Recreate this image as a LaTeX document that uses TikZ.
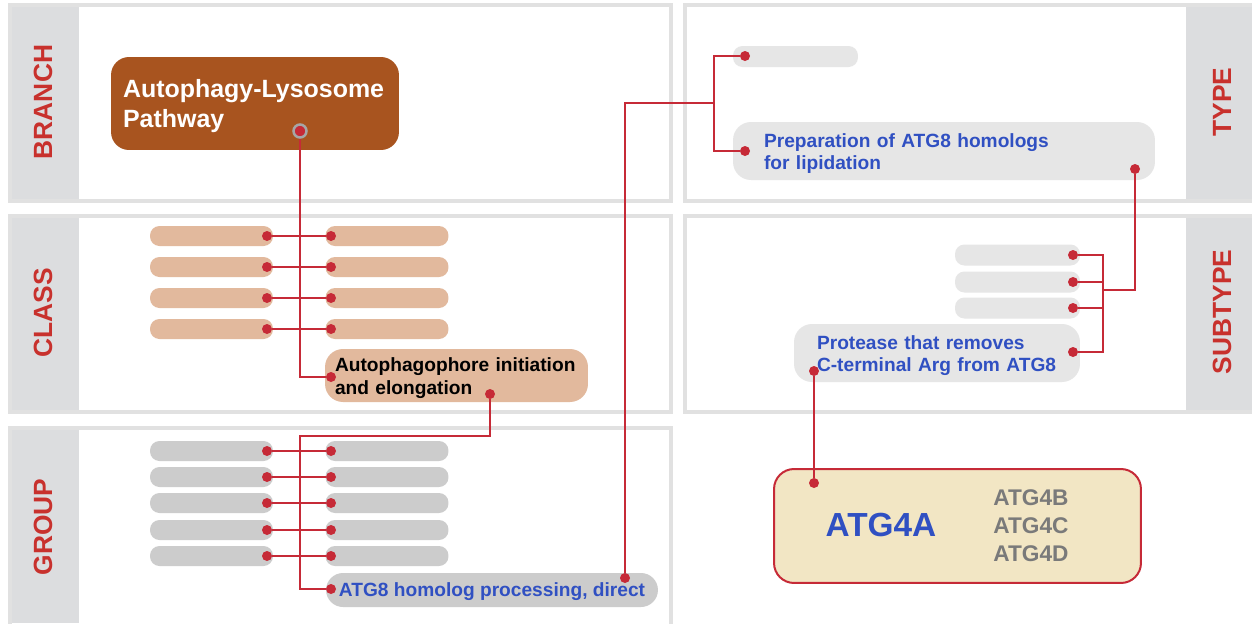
\documentclass[tikz,border=0pt]{standalone}
\usepackage{fontspec}
\setmainfont{Liberation Sans}
\usetikzlibrary{positioning}

\definecolor{panelgrey}{HTML}{E1E1E1}
\definecolor{stripgrey}{HTML}{DCDDDF}
\definecolor{labelred}{HTML}{C8312D}
\definecolor{linkred}{HTML}{C62A37}
\definecolor{brownbox}{HTML}{A8541F}
\definecolor{peach}{HTML}{E2B99D}
\definecolor{pillgrey}{HTML}{CCCCCC}
\definecolor{lightpill}{HTML}{E6E6E6}
\definecolor{textblue}{HTML}{3050C2}
\definecolor{cream}{HTML}{F2E6C4}
\definecolor{greytext}{HTML}{7A7A7A}

\newcommand{\boxfont}{\fontsize{10.9}{12.6}\selectfont\bfseries}

\tikzset{
  panel/.style={draw=panelgrey, line width=0.08cm, fill=white},
  strip/.style={fill=stripgrey},
  lab/.style={rotate=90, text=labelred, font=\fontsize{15}{15}\selectfont\bfseries},
  pill/.style={rounded corners=0.19cm, minimum width=2.46cm, minimum height=0.4cm, inner sep=0pt},
  dot/.style={circle, fill=linkred, minimum size=0.2cm, inner sep=0pt},
  link/.style={draw=linkred, line width=0.04cm},
  txtbox/.style={rounded corners=0.36cm, align=left, inner ysep=0pt, text depth=12pt, font=\boxfont}
}

\begin{document}
\begin{tikzpicture}[x=0.02cm, y=-0.02cm]
\useasboundingbox (0,0) rectangle (1252,623);
\fill[white] (0,0) rectangle (1252,623);

% panels
\draw[panel] (10,5) rectangle (671,201);
\fill[strip] (12,7) rectangle (79,199);
\draw[panel] (10,216) rectangle (671,412);
\fill[strip] (12,218) rectangle (79,410);
\draw[panel] (10,428) rectangle (671,627);
\fill[strip] (12,430) rectangle (79,623);
\draw[panel] (685,5) rectangle (1258,201);
\fill[strip] (1186,7) rectangle (1252,199);
\draw[panel] (685,216) rectangle (1258,412);
\fill[strip] (1186,218) rectangle (1252,410);

\node[lab] (lbranch) at (43,102) {BRANCH};
\node[lab] (lclass) at (43,313) {CLASS};
\node[lab] (lgroup) at (43,527) {GROUP};
\node[lab] (ltype) at (1222,102) {TYPE};
\node[lab] (lsubtype) at (1222,312) {SUBTYPE};

% branch
\node[txtbox, fill=brownbox, text=white, text width=5.28cm, inner xsep=0.24cm, minimum height=1.86cm, text depth=17.2pt,
  font=\fontsize{14.2}{17}\selectfont\bfseries] (alp) at (255,103.5) {Autophagy-Lysosome\\Pathway};

% class
\node[pill, fill=peach] (cl1) at (211.5,236) {};
\node[pill, fill=peach] (cl2) at (211.5,267) {};
\node[pill, fill=peach] (cl3) at (211.5,298) {};
\node[pill, fill=peach] (cl4) at (211.5,329) {};
\node[pill, fill=peach] (cr1) at (387,236) {};
\node[pill, fill=peach] (cr2) at (387,267) {};
\node[pill, fill=peach] (cr3) at (387,298) {};
\node[pill, fill=peach] (cr4) at (387,329) {};
\node[txtbox, fill=peach, text width=4.86cm, inner xsep=0.2cm, minimum height=1.06cm] (apg) at (456.5,375.5)
  {Autophagophore initiation\\and elongation};

% group
\node[pill, fill=pillgrey] (gl1) at (211.5,451) {};
\node[pill, fill=pillgrey] (gl2) at (211.5,477) {};
\node[pill, fill=pillgrey] (gl3) at (211.5,503) {};
\node[pill, fill=pillgrey] (gl4) at (211.5,530) {};
\node[pill, fill=pillgrey] (gl5) at (211.5,556) {};
\node[pill, fill=pillgrey] (gr1) at (387,451) {};
\node[pill, fill=pillgrey] (gr2) at (387,477) {};
\node[pill, fill=pillgrey] (gr3) at (387,503) {};
\node[pill, fill=pillgrey] (gr4) at (387,530) {};
\node[pill, fill=pillgrey] (gr5) at (387,556) {};
\node[txtbox, fill=pillgrey, text=textblue, rounded corners=0.34cm, minimum width=6.64cm, minimum height=0.68cm, text depth=0pt] (hom) at (492,590)
  {ATG8 homolog processing, direct};

% type
\node[pill, fill=lightpill, minimum width=2.5cm, minimum height=0.42cm] (t1) at (795.5,56.5) {};
\node[txtbox, fill=lightpill, text=textblue, text width=7.2cm, inner xsep=0.62cm, minimum height=1.16cm] (prep) at (944,151)
  {Preparation of ATG8 homologs\\for lipidation};

% subtype
\node[pill, fill=lightpill, minimum width=2.5cm, minimum height=0.42cm] (s1) at (1017.5,255) {};
\node[pill, fill=lightpill, minimum width=2.5cm, minimum height=0.42cm] (s2) at (1017.5,282) {};
\node[pill, fill=lightpill, minimum width=2.5cm, minimum height=0.42cm] (s3) at (1017.5,308) {};
\node[txtbox, fill=lightpill, text=textblue, text width=4.8cm, inner xsep=0.46cm, minimum height=1.16cm, text depth=11.5pt] (prot) at (937,353)
  {Protease that removes\\C-terminal Arg from ATG8};

% gene
\node[draw=linkred, line width=0.04cm, fill=cream, rounded corners=0.4cm, minimum width=7.34cm, minimum height=2.28cm] (atg) at (957.5,526) {};
\node[text=textblue, font=\fontsize{19}{19}\selectfont\bfseries] (atg4a) at (881,525) {ATG4A};
\node[text=greytext, align=left, font=\fontsize{12.9}{15.9}\selectfont\bfseries] (atgrest) at (1031,526) {ATG4B\\ATG4C\\ATG4D};

% dots
\node[dot, draw=gray!70, line width=0.05cm, minimum size=0.26cm] (alpd) at (300,131) {};
\node[dot] (cl1d) at (267,236) {};
\node[dot] (cl2d) at (267,267) {};
\node[dot] (cl3d) at (267,298) {};
\node[dot] (cl4d) at (267,329) {};
\node[dot] (cr1d) at (331,236) {};
\node[dot] (cr2d) at (331,267) {};
\node[dot] (cr3d) at (331,298) {};
\node[dot] (cr4d) at (331,329) {};
\node[dot] (apgd) at (331,377) {};
\node[dot] (apgd2) at (490,394) {};
\node[dot] (gl1d) at (267,451) {};
\node[dot] (gl2d) at (267,477) {};
\node[dot] (gl3d) at (267,503) {};
\node[dot] (gl4d) at (267,530) {};
\node[dot] (gl5d) at (267,556) {};
\node[dot] (gr1d) at (331,451) {};
\node[dot] (gr2d) at (331,477) {};
\node[dot] (gr3d) at (331,503) {};
\node[dot] (gr4d) at (331,530) {};
\node[dot] (gr5d) at (331,556) {};
\node[dot] (homd) at (331,589) {};
\node[dot] (homd2) at (625,578) {};
\node[dot] (t1d) at (745,56) {};
\node[dot] (prepd) at (745,151) {};
\node[dot] (prepd2) at (1135,169) {};
\node[dot] (s1d) at (1073,255) {};
\node[dot] (s2d) at (1073,282) {};
\node[dot] (s3d) at (1073,308) {};
\node[dot] (protd) at (1073,352) {};
\node[dot] (protd2) at (814,371) {};
\node[dot] (atgd) at (814,483) {};

\coordinate (gtop) at (300,436);
\coordinate (tfork) at (714,103);
\coordinate (sfork) at (1103,290);

% links
\draw[link] (alpd) |- (apgd);
\draw[link] (cl1d) -- (cr1d);
\draw[link] (cl2d) -- (cr2d);
\draw[link] (cl3d) -- (cr3d);
\draw[link] (cl4d) -- (cr4d);
\draw[link] (apgd2) |- (gtop) |- (homd);
\draw[link] (gl1d) -- (gr1d);
\draw[link] (gl2d) -- (gr2d);
\draw[link] (gl3d) -- (gr3d);
\draw[link] (gl4d) -- (gr4d);
\draw[link] (gl5d) -- (gr5d);
\draw[link] (homd2) |- (tfork);
\draw[link] (tfork) |- (t1d);
\draw[link] (tfork) |- (prepd);
\draw[link] (prepd2) |- (sfork);
\draw[link] (sfork) |- (s1d);
\draw[link] (sfork) |- (s2d);
\draw[link] (sfork) |- (s3d);
\draw[link] (sfork) |- (protd);
\draw[link] (protd2) -- (atgd);
\end{tikzpicture}
\end{document}
